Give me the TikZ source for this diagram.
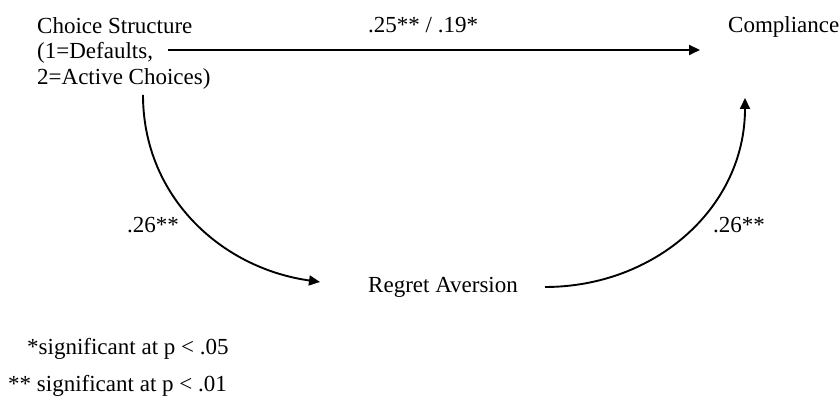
\documentclass[tikz,border=0pt]{standalone}
\usepackage{fontspec}
\setmainfont{Liberation Serif}
\usetikzlibrary{calc, positioning, arrows.meta}

\tikzset{
  var/.style={font=\fontsize{23}{25.5}\selectfont, inner sep=0pt, anchor=base west},
  coef/.style={var},
  link/.style={line width=1.9pt, -{Triangle[length=11pt, width=10pt]}}
}

\begin{document}
\begin{tikzpicture}[x=1pt, y=1pt]
\useasboundingbox (0,0) rectangle (840,403);

% Variables
\node[var, anchor=north west, align=left] (choice) at (37,386) {Choice Structure\\(1=Defaults,\\2=Active Choices)};
\node[var] (comp) at (728,370) {Compliance};
\node[var] (regret) at (368,110) {Regret Aversion};

% Path ends
\coordinate (c-right) at ($(comp.base west)+(-560,-17)$);
\coordinate (comp-left) at ($(comp.base west)+(-28,-17)$);
\coordinate (c-down) at (143,308);
\coordinate (r-in) at ($(regret.base west)+(-48,11)$);
\coordinate (r-out) at ($(regret.base west)+(177,6)$);
\coordinate (comp-up) at (745,305);

% Paths
\draw[link] (c-right) -- (comp-left);
\draw[link] (c-down) to[out=-90, in=172] (r-in);
\draw[link] (r-out) to[out=0, in=-90, looseness=1.02] (comp-up);

% Coefficients
\node[coef] (b-direct) at (368,370) {.25** / .19*};
\node[coef] (b-a) at (127,170) {.26**};
\node[coef] (b-b) at (713,170) {.26**};

% Notes
\node[var] (note1) at (27,48) {*significant at p < .05};
\node[var] (note2) at (8,11) {** significant at p < .01};
\end{tikzpicture}
\end{document}
